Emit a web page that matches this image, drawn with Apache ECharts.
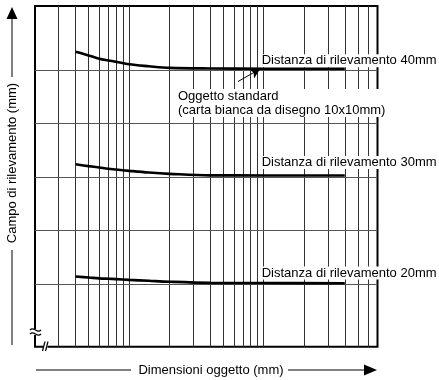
<!DOCTYPE html>
<html>
<head>
<meta charset="utf-8">
<script src="https://cdn.jsdelivr.net/npm/echarts@6/dist/echarts.min.js"></script>
<style>
  html, body { margin: 0; padding: 0; background: #fff; }
  #chart { width: 439px; height: 380px; }
</style>
</head>
<body>
<div id="chart"></div>
<script>
// Object size (mm), logarithmic axis
const sizes = [0.4, 0.5, 0.6, 0.7, 0.8, 1, 1.4, 2, 4, 10, 40];
// Sensing range (mm) at each sensing distance
const range40 = [41.72, 41.38, 41.07, 40.91, 40.79, 40.55, 40.37, 40.22, 40.16, 40.14, 40.14];
const range30 = [31.2, 31.03, 30.9, 30.78, 30.71, 30.59, 30.43, 30.31, 30.17, 30.16, 30.15];
const range20 = [20.71, 20.62, 20.54, 20.5, 20.47, 20.4, 20.31, 20.22, 20.12, 20.1, 20.08];
const curveNames = ['Distanza di rilevamento 40mm', 'Distanza di rilevamento 30mm', 'Distanza di rilevamento 20mm'];

// Grid lines
const xGridValues = [0.3, 0.4, 0.5, 0.6, 0.7, 0.8, 0.9, 1, 2, 3, 4, 5, 6, 7, 8, 9, 10, 20, 30, 40, 50, 60];
const yGridValues = [20, 25, 30, 35, 40];

// Standard object reference size (mm)
const standardSize = 10;

const FONT = '"Liberation Sans", Arial, Helvetica, sans-serif';

function pairs(ys) { return sizes.map((x, i) => [x, ys[i]]); }

const labelOffsets = [[-3, -8], [-3, -13], [-3, -10]];
const curves = [range40, range30, range20].map((ys, k) => ({
  type: 'line',
  name: curveNames[k],
  data: pairs(ys),
  smooth: 0.35,
  showSymbol: false,
  symbol: 'none',
  z: 5,
  lineStyle: { color: '#000', width: 2.6 },
  silent: true,
  markPoint: {
    silent: true,
    symbol: 'circle',
    symbolSize: 0,
    data: [{
      coord: [standardSize, ys[sizes.indexOf(standardSize)]],
      label: {
        show: true,
        position: 'right',
        distance: 0,
        offset: labelOffsets[k],
        formatter: curveNames[k],
        color: '#000',
        fontFamily: FONT,
        fontSize: 13,
        backgroundColor: '#fff',
        padding: [0, 1, 0, 1]
      }
    }]
  }
}));

// Leader arrow from the annotation to the standard object point on the 40mm curve
curves[0].markLine = {
  silent: true,
  symbol: ['none', 'arrow'],
  symbolSize: [8, 10],
  label: { show: false },
  lineStyle: { color: '#000', width: 1, type: 'solid' },
  data: [[{ coord: [6.44, 38.94] }, { coord: [9.4, 40.12] }]]
};

const gridSeries = {
  type: 'line',
  data: [],
  z: 1,
  silent: true,
  markLine: {
    silent: true,
    symbol: 'none',
    animation: false,
    label: { show: false },
    data: xGridValues.map(v => ({ xAxis: v, lineStyle: { color: '#333', width: 1, type: 'solid' } }))
      .concat(yGridValues.map(v => ({ yAxis: v, lineStyle: { color: '#555', width: 1, type: 'solid' } })))
  }
};

const chart = echarts.init(document.getElementById('chart'), null, { renderer: 'canvas' });
chart.setOption({
  animation: false,
  backgroundColor: '#fff',
  grid: {
    left: 35, top: 6, right: 61.5, bottom: 33.3,
    show: true, borderColor: '#000', borderWidth: 2, backgroundColor: 'transparent'
  },
  xAxis: {
    type: 'log', logBase: 10, min: 0.2, max: 70,
    axisLine: { show: false }, axisTick: { show: false },
    axisLabel: { show: false }, splitLine: { show: false }
  },
  yAxis: {
    type: 'value', min: 14.15, max: 46,
    axisLine: { show: false }, axisTick: { show: false },
    axisLabel: { show: false }, splitLine: { show: false }
  },
  series: [gridSeries].concat(curves),
  graphic: [
    // Annotation for the standard object
    {
      type: 'text', x: 177, y: 89, z: 10,
      style: {
        text: 'Oggetto standard\n(carta bianca da disegno 10x10mm)',
        fill: '#000', font: '13px ' + FONT, lineHeight: 14,
        backgroundColor: '#fff', padding: [0, 1, 0, 1]
      }
    },
    // Vertical axis title with arrow
    { type: 'line', z: 10, shape: { x1: 12, y1: 18, x2: 12, y2: 77 }, style: { stroke: '#000', lineWidth: 1 } },
    { type: 'line', z: 10, shape: { x1: 12, y1: 250, x2: 12, y2: 345 }, style: { stroke: '#000', lineWidth: 1 } },
    { type: 'polygon', z: 10, shape: { points: [[12, 7], [6.5, 19], [17.5, 19]] }, style: { fill: '#000' } },
    {
      type: 'text', z: 10, x: 12.5, y: 163, rotation: Math.PI / 2,
      style: {
        text: 'Campo di rilevamento (mm)', fill: '#000', font: '13px ' + FONT,
        align: 'center', verticalAlign: 'middle'
      }
    },
    // Horizontal axis title with arrow
    { type: 'line', z: 10, shape: { x1: 36, y1: 370, x2: 131, y2: 370 }, style: { stroke: '#000', lineWidth: 1 } },
    { type: 'line', z: 10, shape: { x1: 288, y1: 370, x2: 365, y2: 370 }, style: { stroke: '#000', lineWidth: 1 } },
    { type: 'polygon', z: 10, shape: { points: [[377, 370], [364, 364.5], [364, 375.5]] }, style: { fill: '#000' } },
    {
      type: 'text', z: 10, x: 211, y: 370,
      style: {
        text: 'Dimensioni oggetto (mm)', fill: '#000', font: '13px ' + FONT,
        align: 'center', verticalAlign: 'middle'
      }
    },
    // Axis break marks
    { type: 'rect', z: 11, shape: { x: 32, y: 329, width: 6, height: 6 }, style: { fill: '#fff' } },
    { type: 'bezierCurve', z: 12, shape: { x1: 30, y1: 330, cpx1: 34, cpy1: 325.5, cpx2: 37, cpy2: 334.5, x2: 41, y2: 330 }, style: { stroke: '#000', lineWidth: 1.2, fill: null } },
    { type: 'bezierCurve', z: 12, shape: { x1: 30, y1: 334, cpx1: 34, cpy1: 329.5, cpx2: 37, cpy2: 338.5, x2: 41, y2: 334 }, style: { stroke: '#000', lineWidth: 1.2, fill: null } },
    { type: 'rect', z: 11, shape: { x: 43.5, y: 344.5, width: 4, height: 4 }, style: { fill: '#fff' } },
    { type: 'line', z: 12, shape: { x1: 42.5, y1: 351, x2: 45, y2: 341.5 }, style: { stroke: '#000', lineWidth: 1.2 } },
    { type: 'line', z: 12, shape: { x1: 45.5, y1: 351, x2: 48, y2: 341.5 }, style: { stroke: '#000', lineWidth: 1.2 } }
  ]
});
</script>
</body>
</html>
